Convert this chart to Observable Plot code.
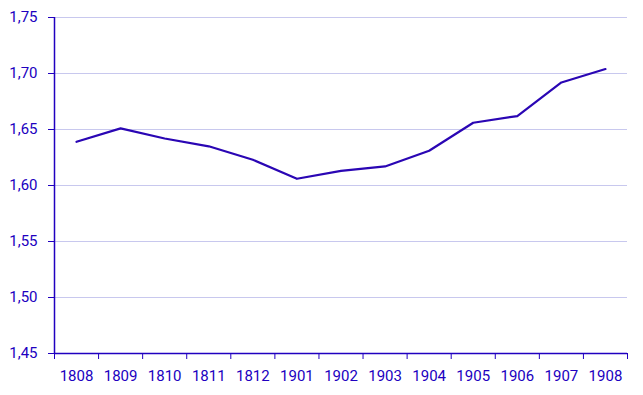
<!DOCTYPE html>
<html><head><meta charset="utf-8">
<script src="https://cdn.jsdelivr.net/npm/d3@7"></script>
<script src="https://cdn.jsdelivr.net/npm/@observablehq/plot@0.6"></script>
<style>body{margin:0;background:#fff;} svg{display:block;}</style>
</head><body><div id="chart"></div>
<script>
const years = ["1808","1809","1810","1811","1812","1901","1902","1903","1904","1905","1906","1907","1908"];
const values = [1.639,1.651,1.642,1.635,1.623,1.606,1.613,1.617,1.631,1.656,1.662,1.692,1.704];
const yTicks = [1.45,1.50,1.55,1.60,1.65,1.70,1.75];

const data = years.map((y,i)=>({i:i+0.5, year:y, v:values[i]}));
const boundaries = d3.range(years.length+1);
const ink = "#2000c0";
const fmt = d => d.toFixed(2).replace(".", ",");

const chart = Plot.plot({
  width: 643, height: 395,
  marginLeft: 54, marginRight: 16, marginTop: 17, marginBottom: 42,
  style: {fontFamily: "Roboto, sans-serif", fontSize: "15px", color: ink, background: "#fff"},
  x: {domain: [0, years.length], axis: null},
  y: {domain: [1.45, 1.75], axis: null},
  marks: [
    Plot.ruleY(yTicks.slice(1), {stroke: "#c8c8ee", strokeWidth: 1}),
    Plot.axisY(yTicks, {tickSize: 6, tickPadding: 11, tickFormat: fmt, stroke: ink, fill: ink, fontSize: 15, label: null}),
    Plot.axisX(boundaries, {tickSize: 6, tickFormat: () => "", stroke: ink, label: null}),
    Plot.axisX(data.map(d=>d.i), {tickSize: 0, tickPadding: 17, tickFormat: (d) => years[Math.round(d-0.5)], fill: ink, fontSize: 15, label: null}),
    Plot.ruleX([0], {stroke: ink, strokeWidth: 1.5}),
    Plot.ruleY([1.45], {stroke: ink, strokeWidth: 1.5}),
    Plot.line(data, {x: "i", y: "v", stroke: "#2a06b4", strokeWidth: 2.2})
  ]
});
document.getElementById("chart").appendChild(chart);
</script></body></html>
